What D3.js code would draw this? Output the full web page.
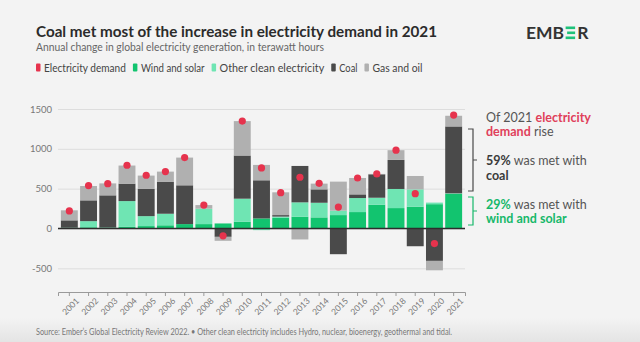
<!DOCTYPE html>
<html>
<head>
<meta charset="utf-8">
<script src="https://cdn.jsdelivr.net/npm/d3@7"></script>
<style>
  html, body { margin: 0; padding: 0; background: #f3f3f3; }
  svg { display: block; font-family: Lato, "Noto Sans", sans-serif; }
</style>
</head>
<body>
<svg id="chart" width="640" height="342"></svg>
<script>
// data (TWh, annual change)
const years = ['2001', '2002', '2003', '2004', '2005', '2006', '2007', '2008', '2009', '2010', '2011',
    '2012', '2013', '2014', '2015', '2016', '2017', '2018', '2019', '2020', '2021'];
const windSolar = [10, 15, 12, 20, 30, 40, 55, 55, 63, 84, 126, 134, 147, 139, 168, 206, 298, 256, 273, 305, 433];
const otherClean = [0, 77, 0, 324, 125, 145, 0, 193, 0, 290, -21, 15, 181, 184, 55, 176, 88, 240, 218, 20, 8];
const coal = [92, 261, 404, 219, 341, 399, 487, 0, -105, 542, 479, 19, 457, 168, -323, 46, 294, 365, -223, -407, 840];
const gasOil = [126, 180, 150, 227, 168, 130, 348, 46, -50, 432, 193, 286, -138, 72, 365, 206, 5, 122, 168, -118, 134];
const demand = [220, 538, 563, 794, 668, 714, 890, 294, -92, 1348, 760, 450, 643, 567, 269, 634, 685, 983, 437, -189, 1424];
const yTicks = [-500, 0, 500, 1000, 1500];

const seriesKeys = ['windSolar', 'otherClean', 'coal', 'gasOil'];
const colors = {
    demand: '#e6334d',
    windSolar: '#12c46f',
    otherClean: '#6fe5b3',
    coal: '#4a4a4a',
    gasOil: '#b0b0b0',
};

const table = years.map((y, i) => ({
    year: y,
    windSolar: windSolar[i],
    otherClean: otherClean[i],
    coal: coal[i],
    gasOil: gasOil[i],
    demand: demand[i],
}));

const svg = d3.select('#chart');

// bottom shading like the screenshot
const defs = svg.append('defs');
const grad = defs.append('linearGradient').attr('id', 'shade').attr('x1', 0).attr('x2', 0).attr('y1', 0).attr('y2', 1);
grad.append('stop').attr('offset', '0%').attr('stop-color', '#f3f3f3');
grad.append('stop').attr('offset', '100%').attr('stop-color', '#e4e4e4');
svg.append('rect').attr('x', 0).attr('y', 318).attr('width', 640).attr('height', 24).attr('fill', 'url(#shade)');

// title block
svg.append('text')
    .attr('x', 36).attr('y', 37)
    .attr('font-size', 16).attr('font-weight', 700).attr('fill', '#2b2b2b')
    .attr('textLength', 401).attr('lengthAdjust', 'spacingAndGlyphs')
    .text('Coal met most of the increase in electricity demand in 2021');

svg.append('text')
    .attr('x', 36).attr('y', 51)
    .attr('font-size', 12).attr('fill', '#666')
    .attr('textLength', 288).attr('lengthAdjust', 'spacingAndGlyphs')
    .text('Annual change in global electricity generation, in terawatt hours');

// legend
const legendItems = [
    { label: 'Electricity demand', color: colors.demand },
    { label: 'Wind and solar', color: colors.windSolar },
    { label: 'Other clean electricity', color: colors.otherClean },
    { label: 'Coal', color: colors.coal },
    { label: 'Gas and oil', color: colors.gasOil },
];
let lx = 36;
legendItems.forEach((d) => {
    svg.append('rect')
        .attr('x', lx).attr('y', 63.5).attr('width', 4.5).attr('height', 8).attr('rx', 1)
        .attr('fill', d.color);
    svg.append('text')
        .attr('x', lx + 8).attr('y', 71.5)
        .attr('font-size', 11.5).attr('fill', '#444')
        .attr('textLength', d.label.length * 4.55).attr('lengthAdjust', 'spacingAndGlyphs')
        .text(d.label);
    lx += 8 + d.label.length * 4.55 + 7;
});

// logo
const logo = svg.append('g').attr('transform', 'translate(526,39)');
const emb = logo.append('text').attr('font-size', 17.5).attr('font-weight', 700).attr('fill', '#333')
    .text('EMB');
const ew = emb.node().getComputedTextLength();
[0, 5, 10].forEach((dy, k) => {
    logo.append('rect')
        .attr('x', ew + 1.5 + (k === 1 ? 1.5 : 0)).attr('y', -12.5 + dy)
        .attr('width', k === 1 ? 8 : 9.5).attr('height', 2.6)
        .attr('fill', '#1ec27a');
});
logo.append('text').attr('x', ew + 13).attr('font-size', 17.5).attr('font-weight', 700).attr('fill', '#333')
    .text('R');

// scales
const x = d3.scaleBand().domain(years).range([58, 465]).paddingInner(0.12).paddingOuter(0.15);
const y = d3.scaleLinear().domain([-500, 1500]).range([268.3, 109]);

const plot = svg.append('g');

// gridlines + y labels (plain hyphen for negatives)
const yAxis = plot.append('g')
    .attr('transform', 'translate(58,0)')
    .call(d3.axisLeft(y).tickValues(yTicks).tickFormat((d) => String(d)).tickSize(-407).tickPadding(6));
yAxis.select('.domain').remove();
yAxis.selectAll('.tick line').attr('stroke', '#dddddd').attr('stroke-width', 1);
yAxis.selectAll('.tick text').attr('fill', '#777').attr('font-size', 9.5)
    .attr('font-family', 'Lato, "Noto Sans", sans-serif');

// stacked bars
const stack = d3.stack().keys(seriesKeys).offset(d3.stackOffsetDiverging);
const layers = stack(table);

plot.selectAll('.layer')
    .data(layers)
    .join('g')
    .attr('class', 'layer')
    .attr('fill', (d) => colors[d.key])
    .selectAll('rect')
    .data((d) => d)
    .join('rect')
    .attr('x', (d) => x(d.data.year))
    .attr('width', x.bandwidth())
    .attr('y', (d) => y(Math.max(d[0], d[1])))
    .attr('height', (d) => Math.abs(y(d[0]) - y(d[1])));

// zero line
plot.append('line')
    .attr('x1', 58).attr('x2', 465)
    .attr('y1', y(0)).attr('y2', y(0))
    .attr('stroke', '#2d2d2d').attr('stroke-width', 1.3);

// demand dots
plot.selectAll('.dot')
    .data(table)
    .join('circle')
    .attr('class', 'dot')
    .attr('cx', (d) => x(d.year) + x.bandwidth() / 2)
    .attr('cy', (d) => y(d.demand))
    .attr('r', 3.6)
    .attr('fill', colors.demand);

// x axis
const xAxis = svg.append('g')
    .attr('transform', 'translate(0,292)')
    .call(d3.axisBottom(x).tickSizeOuter(0).tickSize(4).tickPadding(4));
xAxis.select('.domain').attr('stroke', '#9a9a9a');
xAxis.selectAll('.tick line').attr('stroke', '#9a9a9a');
xAxis.selectAll('.tick text')
    .attr('fill', '#777').attr('font-size', 8.5)
    .attr('font-family', 'Lato, "Noto Sans", sans-serif')
    .attr('text-anchor', 'end')
    .attr('dy', '0.3em')
    .attr('transform', 'translate(3,2) rotate(-45)');

// annotation
const ann = svg.append('g').attr('font-size', 12.5);
const line = (yy, parts) => {
    const t = ann.append('text').attr('x', 486).attr('y', yy);
    parts.forEach((p) => {
        t.append('tspan').attr('font-weight', p.b ? 700 : 400).attr('fill', p.c).text(p.t);
    });
};
line(121.5, [{ t: 'Of 2021 ', c: '#555' }, { t: 'electricity', c: '#e0405a', b: 1 }]);
line(136, [{ t: 'demand', c: '#e0405a', b: 1 }, { t: ' rise', c: '#555' }]);
line(165, [{ t: '59%', c: '#3a3a3a', b: 1 }, { t: ' was met with', c: '#555' }]);
line(180, [{ t: 'coal', c: '#3a3a3a', b: 1 }]);
line(208.5, [{ t: '29%', c: '#16b86a', b: 1 }, { t: ' was met with', c: '#555' }]);
line(223, [{ t: 'wind and solar', c: '#16b86a', b: 1 }]);

// brackets
const bracket = (y0, y1, color) => {
    const mid = (y0 + y1) / 2;
    svg.append('path')
        .attr('d', `M468,${y0} H473 V${y1} H468 M473,${mid} H477`)
        .attr('fill', 'none').attr('stroke', color).attr('stroke-width', 1.2);
};
bracket(129, 191, '#4a4a4a');
bracket(197, 225, '#16b86a');

// source
svg.append('text')
    .attr('x', 36).attr('y', 334.5)
    .attr('font-size', 8.5).attr('fill', '#777')
    .attr('textLength', 416).attr('lengthAdjust', 'spacingAndGlyphs')
    .text('Source: Ember\u2019s Global Electricity Review 2022. \u2022 Other clean electricity includes Hydro, nuclear, bioenergy, geothermal and tidal.');
</script>
</body>
</html>
